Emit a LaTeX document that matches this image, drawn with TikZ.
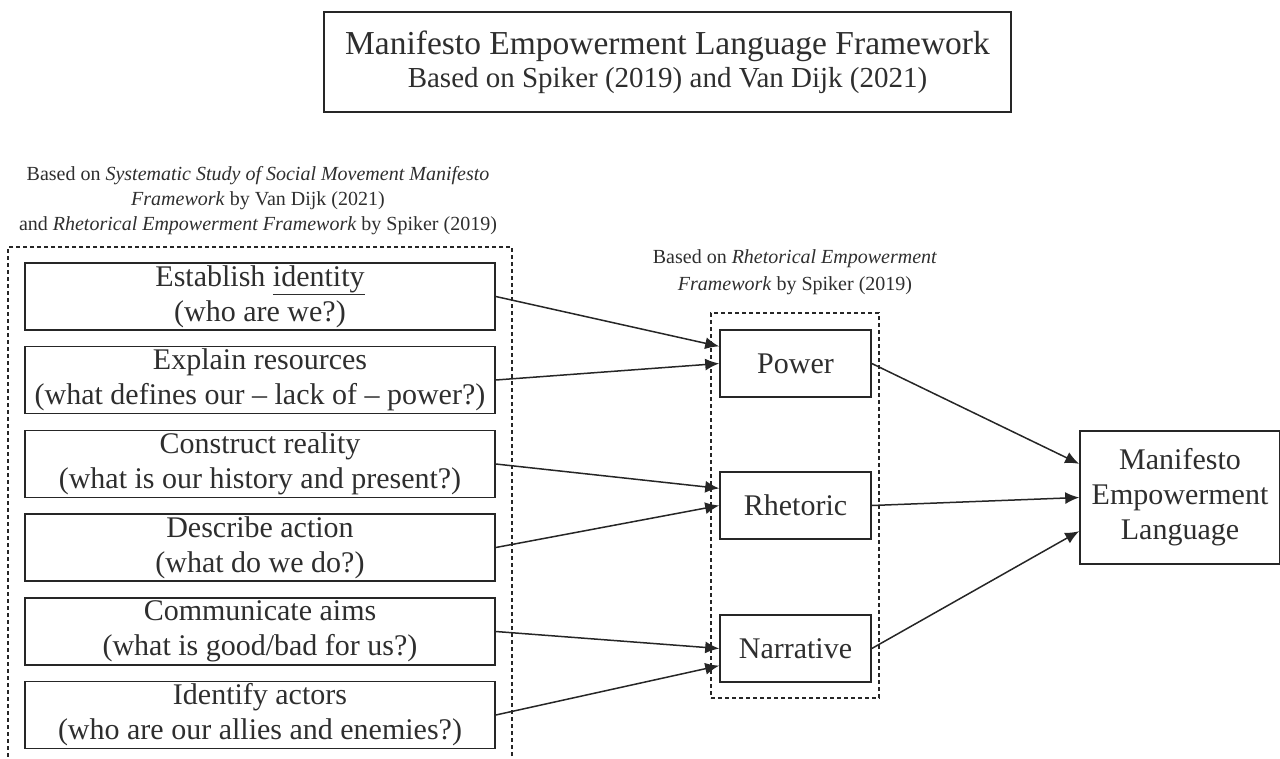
\documentclass[tikz,border=0pt]{standalone}
\usepackage{fontspec}
\setmainfont{Liberation Serif}
\usetikzlibrary{arrows.meta,calc}
\definecolor{ink}{HTML}{262626}
\definecolor{txt}{HTML}{2E2E2E}
\begin{document}
\begin{tikzpicture}[x=1pt,y=-1pt,
  box/.style={draw=ink, line width=1.6pt, text=txt, align=center, inner sep=0pt,
    font=\fontsize{30}{35}\selectfont},
  lbox/.style={box, minimum width=470pt, minimum height=67pt},
  mbox/.style={box, minimum width=151pt, minimum height=67pt},
  grp/.style={draw=ink, line width=1.2pt, dash pattern=on 4pt off 3pt, inner sep=0pt},
  captext/.style={text=txt, align=center, inner sep=0pt, font=\fontsize{20}{25}\selectfont},
  arr/.style={draw=ink, line width=1.5pt, -{Latex[length=14pt,width=12pt]}}
]
\useasboundingbox (0,0) rectangle (1280,758);
\clip (0,0) rectangle (1280,758);

% title
\node[draw=ink, line width=1.6pt, text=txt, align=center, inner sep=0pt,
  minimum width=687pt, minimum height=100pt, font=\fontsize{33.5}{35}\selectfont] (title) at (667.5,62)
  {\raisebox{-2pt}{Manifesto Empowerment Language Framework}\\
   {\fontsize{29}{35}\selectfont Based on Spiker (2019) and Van Dijk (2021)}};

% captions
\node[captext] (capL) at (258,201) {Based on \textit{Systematic Study of Social Movement Manifesto}\\
  \textit{Framework} by Van Dijk (2021)\\
  and \textit{Rhetorical Empowerment Framework} by Spiker (2019)};
\node[captext, font=\fontsize{20}{27}\selectfont] (capM) at (795,272) {Based on \textit{Rhetorical Empowerment}\\
  \textit{Framework} by Spiker (2019)};

% groups
\node[grp, minimum width=504pt, minimum height=523pt] (gL) at (260,508.5) {};
\node[grp, minimum width=168pt, minimum height=385pt] (gM) at (795,505.5) {};

% left boxes
\node[lbox] (b1) at (260,296.5) {Establish \underline{identity}\\(who are we?)};
\node[lbox] (b2) at (260,380) {Explain resources\\(what defines our -- lack of -- power?)};
\node[lbox] (b3) at (260,464) {Construct reality\\(what is our history and present?)};
\node[lbox] (b4) at (260,547.5) {Describe action\\(what do we do?)};
\node[lbox] (b5) at (260,631.5) {Communicate aims\\(what is good/bad for us?)};
\node[lbox] (b6) at (260,715) {Identify actors\\(who are our allies and enemies?)};

% middle boxes
\node[mbox] (pw) at (795.5,363.5) {Power};
\node[mbox] (rh) at (795.5,505.5) {Rhetoric};
\node[mbox] (na) at (795.5,648.5) {Narrative};

% result
\node[box, minimum width=200pt, minimum height=133pt] (mel) at (1180,497.5)
  {Manifesto\\Empowerment\\Language};

% connectors
\draw[arr] (b1.east) -- ($(pw.north west)!0.25!(pw.south west)$);
\draw[arr] (b2.east) -- (pw.west);
\draw[arr] (b3.east) -- ($(rh.north west)!0.25!(rh.south west)$);
\draw[arr] (b4.east) -- (rh.west);
\draw[arr] (b5.east) -- (na.west);
\draw[arr] (b6.east) -- ($(na.north west)!0.75!(na.south west)$);
\draw[arr] (pw.east) -- ($(mel.north west)!0.25!(mel.south west)$);
\draw[arr] (rh.east) -- (mel.west);
\draw[arr] (na.east) -- ($(mel.north west)!0.75!(mel.south west)$);
\end{tikzpicture}
\end{document}
